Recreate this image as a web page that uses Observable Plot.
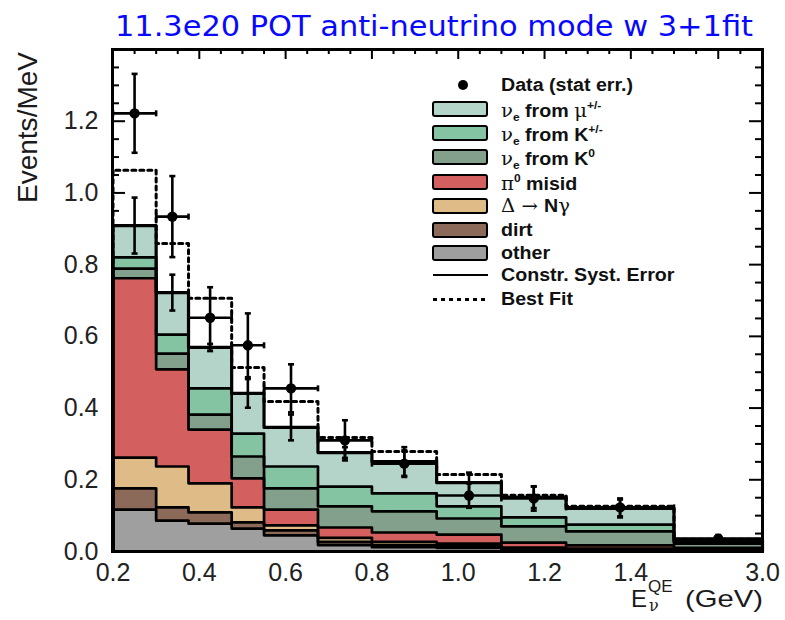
<!DOCTYPE html>
<html>
<head>
<meta charset="utf-8">
<script src="https://cdn.jsdelivr.net/npm/d3@7"></script>
<script src="https://cdn.jsdelivr.net/npm/@observablehq/plot@0.6"></script>
<style>
  body { margin: 0; background: #fff; }
  #wrap { position: relative; width: 785px; height: 620px; overflow: hidden; font-family: "Liberation Sans", Arial, sans-serif; color: #1a1a1a; }
  #chart { position: absolute; left: 0; top: 0; }
  .abs { position: absolute; white-space: nowrap; transform-origin: 0 0; }
  #title { left: 115px; top: 13px; font-family: "DejaVu Sans Condensed", "DejaVu Sans", sans-serif; font-stretch: condensed; font-size: 28px; line-height: 28px; color: #0808ff; }
  #ylabel { left: 14px; top: 203px; font-size: 28px; line-height: 28px; }
  .leg-box { position: absolute; left: 432px; width: 56px; height: 16px; box-sizing: border-box; border: 2.6px solid #000; border-radius: 3px; }
  .leg-text { position: absolute; left: 501px; font-weight: bold; font-size: 18px; line-height: 18px; height: 18px; white-space: nowrap; transform-origin: 0 0; color: #111; }
  .g { font-family: "DejaVu Serif", "Liberation Serif", serif; font-weight: normal; font-size: 18px; line-height: 16px; }
  .leg-text sub { font-size: 11px; line-height: 10px; vertical-align: -4px; }
  .leg-text sup { font-size: 11px; line-height: 10px; vertical-align: 8px; }
</style>
</head>
<body>
<div id="wrap">
  <div id="chart"></div>
  <div id="title" class="abs">11.3e20 POT anti-neutrino mode w 3+1fit</div>
  <div id="ylabel" class="abs">Events/MeV</div>
  <div id="legend"></div>
  <div id="xlabel"></div>
</div>
<script>
// ---- bin edges (GeV) ----
const binEdges = [0.2, 0.3, 0.375, 0.475, 0.55, 0.675, 0.8, 0.95, 1.1, 1.25, 1.5, 3.0];

// ---- stacked background components (Events/MeV), per bin ----
const other   = [0.117, 0.086, 0.078, 0.064, 0.045, 0.018, 0.012, 0.010, 0.004, 0.003, 0.004];
const dirt    = [0.059, 0.037, 0.031, 0.017, 0.014, 0.009, 0.006, 0.005, 0.003, 0.002, 0.002];
const deltaNg = [0.086, 0.114, 0.081, 0.042, 0.014, 0.011, 0.009, 0.007, 0.004, 0.003, 0.001];
const pi0     = [0.500, 0.271, 0.150, 0.081, 0.044, 0.029, 0.026, 0.025, 0.014, 0.009, 0.003];
const nueK0   = [0.027, 0.044, 0.042, 0.061, 0.059, 0.059, 0.059, 0.045, 0.045, 0.039, 0.012];
const nueKpm  = [0.031, 0.053, 0.073, 0.064, 0.061, 0.055, 0.050, 0.034, 0.025, 0.019, 0.004];
const nueMu   = [0.089, 0.117, 0.114, 0.112, 0.109, 0.095, 0.089, 0.066, 0.056, 0.045, 0.006];

// ---- constrained systematic error on the total, best fit, data ----
const systErr  = [0.078, 0.050, 0.010, 0.040, 0.036, 0.015, 0.040, 0.028, 0.030, 0.025, 0.008];
const bestFit  = [1.063, 0.859, 0.706, 0.513, 0.418, 0.318, 0.279, 0.215, 0.157, 0.126, 0.034];
const dataVals = [1.222, 0.934, 0.652, 0.575, 0.455, 0.310, 0.245, 0.156, 0.148, 0.123, 0.036];
const dataErr  = [0.110, 0.113, 0.085, 0.089, 0.067, 0.056, 0.037, 0.034, 0.034, 0.025, 0.010];

// ---- ticks ----
const xTickLabels = [0.2, 0.4, 0.6, 0.8, 1.0, 1.2, 1.4, 3.0];
const xMajorTicks = [0.2, 0.4, 0.6, 0.8, 1.0, 1.2, 1.4, 2.25];
const xMinorTicks = [0.25, 0.3, 0.35, 0.45, 0.5, 0.55, 0.65, 0.7, 0.75, 0.85, 0.9, 0.95, 1.05, 1.1, 1.15, 1.25, 1.3, 1.35, 1.45, 1.5, 1.875, 2.625];
const yTickLabels = [0.0, 0.2, 0.4, 0.6, 0.8, 1.0, 1.2];
const yMajorTicks = [0.2, 0.4, 0.6, 0.8, 1.0, 1.2, 1.4];
const yMinorTicks = [0.05, 0.1, 0.15, 0.25, 0.3, 0.35, 0.45, 0.5, 0.55, 0.65, 0.7, 0.75, 0.85, 0.9, 0.95, 1.05, 1.1, 1.15, 1.25, 1.3, 1.35];

const layers = [
  {name: "other",  values: other,   color: "#9f9f9f"},
  {name: "dirt",   values: dirt,    color: "#8b6a5a"},
  {name: "delta",  values: deltaNg, color: "#dfbb87"},
  {name: "pi0",    values: pi0,     color: "#d35f5f"},
  {name: "K0",     values: nueK0,   color: "#82a08b"},
  {name: "Kpm",    values: nueKpm,  color: "#84c4a2"},
  {name: "mu",     values: nueMu,   color: "#b4d4c9"}
];

const nb = binEdges.length - 1;
let cum = new Array(nb).fill(0);
const layerRects = [];
const layerLines = [];
function stepPoints(v) {
  const pts = [{x: binEdges[0], y: 0}];
  v.forEach((y, i) => pts.push({x: binEdges[i], y}));
  pts.push({x: binEdges[nb], y: 0});
  return pts;
}
layers.forEach(L => {
  const lo = cum.slice();
  cum = cum.map((c, i) => c + L.values[i]);
  layerRects.push({color: L.color, rows: L.values.map((v, i) => ({x1: binEdges[i], x2: binEdges[i + 1], y1: lo[i], y2: cum[i]}))});
  layerLines.push(stepPoints(cum));
});
const total = cum;
const centers = d3.range(nb).map(i => (binEdges[i] + binEdges[i + 1]) / 2);
const dataRows = d3.range(nb).map(i => ({x: centers[i], x1: binEdges[i], x2: binEdges[i + 1], y: dataVals[i], lo: dataVals[i] - dataErr[i], hi: dataVals[i] + dataErr[i]}));
const mcRows = d3.range(nb).map(i => ({x: centers[i], lo: total[i] - systErr[i], hi: total[i] + systErr[i]}));

const hcap = {draw(ctx, size) { const r = Math.sqrt(size / Math.PI); ctx.moveTo(-r, 0); ctx.lineTo(r, 0); }};
const vcap = {draw(ctx, size) { const r = Math.sqrt(size / Math.PI); ctx.moveTo(0, -r); ctx.lineTo(0, r); }};

const W = 785, H = 620, mT = 49, mB = 69, mL = 112, mR = 23;
const pw = W - mL - mR, ph = H - mT - mB;

const marks = [];
// axis ticks (inside the frame), drawn under the histograms
marks.push(Plot.tickY(yMinorTicks, {y: d => d, insetRight: pw - 7, stroke: "#000", strokeWidth: 2}));
marks.push(Plot.tickY(yMajorTicks, {y: d => d, insetRight: pw - 13, stroke: "#000", strokeWidth: 2}));
marks.push(Plot.tickY(yMinorTicks, {y: d => d, insetLeft: pw - 7, stroke: "#000", strokeWidth: 2}));
marks.push(Plot.tickY(yMajorTicks, {y: d => d, insetLeft: pw - 13, stroke: "#000", strokeWidth: 2}));
marks.push(Plot.tickX(xMinorTicks, {x: d => d, insetBottom: ph - 5, stroke: "#000", strokeWidth: 2}));
marks.push(Plot.tickX(xMajorTicks, {x: d => d, insetBottom: ph - 10, stroke: "#000", strokeWidth: 2}));
// stacked fills
layerRects.forEach(L => marks.push(Plot.rect(L.rows, {x1: "x1", x2: "x2", y1: "y1", y2: "y2", fill: L.color, shapeRendering: "crispEdges"})));
// layer outlines
layerLines.forEach((pts, i) => marks.push(Plot.line(pts, {x: "x", y: "y", curve: "step-after", stroke: "#000", strokeWidth: i === layerLines.length - 1 ? 3.2 : 2.7})));
// best fit (dashed)
marks.push(Plot.line(stepPoints(bestFit), {x: "x", y: "y", curve: "step-after", stroke: "#000", strokeWidth: 3, strokeDasharray: "4,4"}));
// constrained syst error bars on total
marks.push(Plot.ruleX(mcRows, {x: "x", y1: "lo", y2: "hi", stroke: "#000", strokeWidth: 2.6}));
marks.push(Plot.dot(mcRows, {x: "x", y: "lo", symbol: hcap, r: 3, stroke: "#000", strokeWidth: 2.6}));
marks.push(Plot.dot(mcRows, {x: "x", y: "hi", symbol: hcap, r: 3, stroke: "#000", strokeWidth: 2.6}));
// data with stat errors
marks.push(Plot.ruleX(dataRows, {x: "x", y1: "lo", y2: "hi", stroke: "#000", strokeWidth: 2.6}));
marks.push(Plot.ruleY(dataRows, {y: "y", x1: "x1", x2: "x2", stroke: "#000", strokeWidth: 2.6}));
marks.push(Plot.dot(dataRows, {x: "x", y: "lo", symbol: hcap, r: 3, stroke: "#000", strokeWidth: 2.6}));
marks.push(Plot.dot(dataRows, {x: "x", y: "hi", symbol: hcap, r: 3, stroke: "#000", strokeWidth: 2.6}));
marks.push(Plot.dot(dataRows, {x: "x1", y: "y", symbol: vcap, r: 3, stroke: "#000", strokeWidth: 2.6}));
marks.push(Plot.dot(dataRows, {x: "x2", y: "y", symbol: vcap, r: 3, stroke: "#000", strokeWidth: 2.6}));
marks.push(Plot.dot(dataRows, {x: "x", y: "y", r: 5.2, fill: "#000", stroke: "none"}));
// axes labels
marks.push(Plot.axisY({ticks: yTickLabels, tickFormat: d3.format(".1f"), tickSize: 0, tickPadding: 14, label: null, fontSize: 25, fill: "#222"}));
marks.push(Plot.axisX({ticks: xTickLabels, tickFormat: d3.format(".1f"), tickSize: 0, tickPadding: 12, label: null, fontSize: 25, fill: "#222"}));
marks.push(Plot.frame({stroke: "#000", strokeWidth: 3}));

const chart = Plot.plot({
  width: W, height: H,
  marginTop: mT, marginBottom: mB, marginLeft: mL, marginRight: mR,
  style: {fontFamily: "'Liberation Sans', Arial, sans-serif", fontSize: "25px", background: "transparent", overflow: "visible"},
  x: {type: "linear", domain: [0.2, 1.5, 3.0], range: [112.5, 673.5, 762]},
  y: {type: "linear", domain: [0, 1.4], range: [551, 49]},
  marks
});
document.getElementById("chart").appendChild(chart);

// ---- legend ----
const legendRows = [
  {y: 85,  kind: "dot",    label: "Data (stat err.)"},
  {y: 109, kind: "box",    color: layers[6].color, label: '<span class="g">ν</span><sub>e</sub> from <span class="g">μ</span><sup>+/-</sup>'},
  {y: 133, kind: "box",    color: layers[5].color, label: '<span class="g">ν</span><sub>e</sub> from K<sup>+/-</sup>'},
  {y: 157, kind: "box",    color: layers[4].color, label: '<span class="g">ν</span><sub>e</sub> from K<sup>0</sup>'},
  {y: 182, kind: "box",    color: layers[3].color, label: '<span class="g">π</span><sup>0</sup> misid'},
  {y: 206, kind: "box",    color: layers[2].color, label: '<span class="g">Δ → </span>N<span class="g">γ</span>'},
  {y: 230, kind: "box",    color: layers[1].color, label: "dirt"},
  {y: 253, kind: "box",    color: layers[0].color, label: "other"},
  {y: 275, kind: "solid",  label: "Constr. Syst. Error"},
  {y: 299, kind: "dashed", label: "Best Fit"}
];
const leg = document.getElementById("legend");
legendRows.forEach(r => {
  if (r.kind === "dot") {
    const d = document.createElement("div");
    Object.assign(d.style, {position: "absolute", left: "458px", top: (r.y - 5) + "px", width: "10px", height: "10px", borderRadius: "50%", background: "#000"});
    leg.appendChild(d);
  } else if (r.kind === "box") {
    const d = document.createElement("div");
    d.className = "leg-box";
    d.style.top = (r.y - 8) + "px";
    d.style.background = r.color;
    leg.appendChild(d);
  } else if (r.kind === "solid") {
    const d = document.createElement("div");
    Object.assign(d.style, {position: "absolute", left: "433px", top: (r.y - 1.3) + "px", width: "55px", height: "2.6px", background: "#000"});
    leg.appendChild(d);
  } else {
    const d = document.createElement("div");
    Object.assign(d.style, {position: "absolute", left: "433px", top: (r.y - 1.5) + "px", width: "55px", height: "3px", background: "repeating-linear-gradient(to right, #000 0 4px, transparent 4px 8px)"});
    leg.appendChild(d);
  }
  const t = document.createElement("div");
  t.className = "leg-text";
  t.style.top = (r.y - 9) + "px";
  t.innerHTML = r.label;
  leg.appendChild(t);
});

// ---- x axis label: E_nu^QE (GeV) ----
const xl = document.getElementById("xlabel");
function piece(html, left, top, size, extra) {
  const s = document.createElement("div");
  s.className = "abs";
  Object.assign(s.style, {left: left + "px", top: top + "px", fontSize: size + "px", lineHeight: size + "px"}, extra || {});
  s.innerHTML = html;
  xl.appendChild(s);
  return s;
}
piece("E", 631, 587, 24);
piece("QE", 648, 578, 17);
piece("ν", 649, 598, 16, {fontFamily: "'DejaVu Serif','Liberation Serif',serif"});
const gev = piece("(GeV)", 685, 587, 24);

function fitWidth(el, target, extra) {
  const w = el.getBoundingClientRect().width;
  el.style.transform = (extra || "") + ` scaleX(${target / w})`;
}
fitWidth(document.getElementById("title"), 638);
fitWidth(gev, 78);
const yl = document.getElementById("ylabel");
const ylw = yl.getBoundingClientRect().width;
yl.style.transform = `rotate(-90deg) scaleX(${151 / ylw})`;
const lt = document.querySelector(".leg-text");
const legScale = 132 / lt.getBoundingClientRect().width;
document.querySelectorAll(".leg-text").forEach(e => e.style.transform = `scaleX(${legScale})`);
</script>
</body>
</html>
